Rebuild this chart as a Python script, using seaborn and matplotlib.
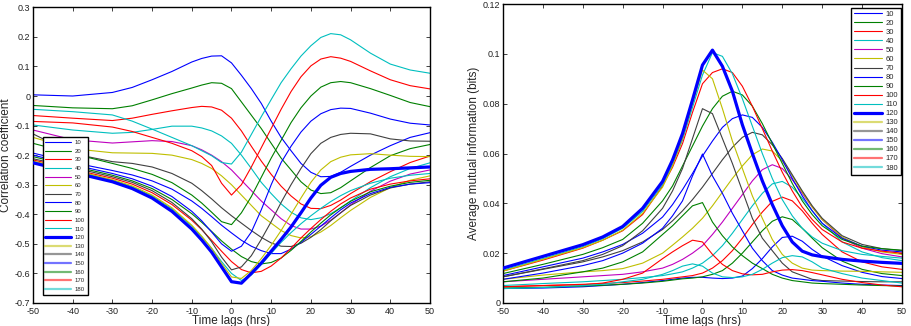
import matplotlib
matplotlib.use("Agg")
import matplotlib.pyplot as plt
import seaborn as sns
import pandas as pd

# ---- data -------------------------------------------------------------
lags = [-50, -40, -30, -25, -20, -15, -10, -7.5, -5, -2.5, 0, 2.5, 5, 7.5, 10,
        12.5, 15, 17.5, 20, 22.5, 25, 27.5, 30, 35, 40, 45, 50]
windows = [10, 20, 30, 40, 50, 60, 70, 80, 90, 100, 110, 120, 130, 140, 150, 160, 170, 180]

# correlation coefficient (left panel)
c10 = [0.004, 0.000, 0.012, 0.029, 0.055, 0.083, 0.115, 0.127, 0.135, 0.136, 0.112, 0.070, 0.025, -0.025, -0.085, -0.140, -0.185, -0.228, -0.258, -0.273, -0.272, -0.258, -0.238, -0.200, -0.168, -0.140, -0.124]
c20 = [-0.032, -0.040, -0.043, -0.033, -0.013, 0.008, 0.027, 0.037, 0.045, 0.043, 0.025, -0.020, -0.065, -0.110, -0.160, -0.210, -0.250, -0.290, -0.318, -0.330, -0.327, -0.310, -0.287, -0.242, -0.202, -0.178, -0.164]
c30 = [-0.066, -0.075, -0.083, -0.075, -0.062, -0.050, -0.039, -0.035, -0.037, -0.048, -0.075, -0.118, -0.170, -0.220, -0.265, -0.305, -0.338, -0.365, -0.380, -0.381, -0.370, -0.352, -0.330, -0.290, -0.256, -0.225, -0.203]
c40 = [-0.098, -0.115, -0.126, -0.123, -0.113, -0.102, -0.102, -0.108, -0.118, -0.135, -0.160, -0.200, -0.245, -0.292, -0.330, -0.365, -0.393, -0.412, -0.418, -0.412, -0.398, -0.378, -0.355, -0.310, -0.273, -0.245, -0.226]
c50 = [-0.115, -0.148, -0.159, -0.155, -0.151, -0.154, -0.168, -0.182, -0.200, -0.222, -0.250, -0.285, -0.320, -0.355, -0.385, -0.415, -0.438, -0.450, -0.450, -0.440, -0.420, -0.395, -0.368, -0.322, -0.288, -0.264, -0.250]
c60 = [-0.140, -0.178, -0.192, -0.193, -0.194, -0.200, -0.215, -0.228, -0.245, -0.270, -0.300, -0.335, -0.370, -0.405, -0.430, -0.455, -0.472, -0.480, -0.476, -0.460, -0.438, -0.412, -0.387, -0.343, -0.310, -0.285, -0.270]
c70 = [-0.128, -0.195, -0.222, -0.228, -0.240, -0.262, -0.295, -0.320, -0.348, -0.378, -0.405, -0.430, -0.455, -0.478, -0.497, -0.508, -0.509, -0.498, -0.478, -0.452, -0.422, -0.395, -0.370, -0.335, -0.311, -0.298, -0.290]
c80 = [-0.193, -0.225, -0.252, -0.267, -0.287, -0.315, -0.355, -0.380, -0.408, -0.437, -0.463, -0.488, -0.508, -0.523, -0.533, -0.533, -0.518, -0.495, -0.468, -0.440, -0.412, -0.385, -0.362, -0.330, -0.309, -0.298, -0.293]
c90 = [-0.205, -0.237, -0.268, -0.287, -0.313, -0.350, -0.398, -0.427, -0.458, -0.490, -0.518, -0.543, -0.560, -0.568, -0.563, -0.548, -0.522, -0.492, -0.460, -0.430, -0.402, -0.378, -0.356, -0.324, -0.305, -0.292, -0.285]
c100 = [-0.216, -0.248, -0.278, -0.298, -0.327, -0.367, -0.420, -0.452, -0.488, -0.525, -0.560, -0.587, -0.598, -0.593, -0.575, -0.548, -0.515, -0.480, -0.448, -0.418, -0.390, -0.365, -0.345, -0.315, -0.298, -0.287, -0.280]
c110 = [-0.222, -0.253, -0.285, -0.307, -0.338, -0.382, -0.440, -0.476, -0.515, -0.560, -0.600, -0.624, -0.605, -0.570, -0.532, -0.495, -0.462, -0.432, -0.405, -0.380, -0.357, -0.337, -0.320, -0.295, -0.278, -0.268, -0.262]
c120 = [-0.226, -0.258, -0.290, -0.313, -0.345, -0.390, -0.450, -0.487, -0.528, -0.578, -0.628, -0.633, -0.600, -0.565, -0.525, -0.485, -0.443, -0.395, -0.345, -0.302, -0.275, -0.262, -0.255, -0.248, -0.246, -0.243, -0.240]
c130 = [-0.220, -0.250, -0.283, -0.304, -0.335, -0.378, -0.437, -0.474, -0.515, -0.566, -0.612, -0.617, -0.590, -0.550, -0.505, -0.455, -0.400, -0.345, -0.292, -0.250, -0.222, -0.207, -0.199, -0.195, -0.200, -0.204, -0.205]
c140 = [-0.212, -0.242, -0.273, -0.292, -0.320, -0.360, -0.415, -0.450, -0.493, -0.545, -0.588, -0.578, -0.540, -0.485, -0.425, -0.360, -0.300, -0.245, -0.195, -0.160, -0.140, -0.130, -0.126, -0.128, -0.145, -0.152, -0.153]
c150 = [-0.200, -0.232, -0.262, -0.280, -0.305, -0.340, -0.390, -0.422, -0.460, -0.500, -0.525, -0.508, -0.460, -0.385, -0.300, -0.225, -0.170, -0.122, -0.085, -0.060, -0.046, -0.041, -0.042, -0.058, -0.078, -0.092, -0.098]
c160 = [-0.160, -0.195, -0.228, -0.245, -0.265, -0.293, -0.335, -0.362, -0.393, -0.425, -0.435, -0.395, -0.340, -0.275, -0.210, -0.150, -0.090, -0.040, 0.000, 0.030, 0.045, 0.049, 0.045, 0.025, 0.002, -0.022, -0.036]
c170 = [-0.086, -0.091, -0.105, -0.120, -0.140, -0.160, -0.185, -0.205, -0.235, -0.295, -0.335, -0.300, -0.240, -0.175, -0.110, -0.045, 0.015, 0.065, 0.102, 0.125, 0.133, 0.128, 0.117, 0.085, 0.055, 0.035, 0.024]
c180 = [-0.045, -0.053, -0.064, -0.085, -0.112, -0.140, -0.168, -0.185, -0.202, -0.225, -0.230, -0.190, -0.130, -0.070, -0.012, 0.045, 0.092, 0.135, 0.170, 0.198, 0.211, 0.207, 0.190, 0.145, 0.108, 0.088, 0.077]

# average mutual information (right panel)
m10 = [0.0058, 0.0060, 0.0065, 0.0070, 0.0075, 0.0082, 0.0090, 0.0095, 0.0100, 0.0103, 0.0103, 0.0100, 0.0098, 0.0100, 0.0108, 0.0138, 0.0178, 0.0225, 0.0263, 0.0268, 0.0248, 0.0215, 0.0188, 0.0150, 0.0123, 0.0106, 0.0098]
m20 = [0.0060, 0.0063, 0.0068, 0.0071, 0.0075, 0.0080, 0.0087, 0.0092, 0.0097, 0.0100, 0.0105, 0.0115, 0.0130, 0.0160, 0.0200, 0.0245, 0.0290, 0.0328, 0.0346, 0.0335, 0.0300, 0.0260, 0.0222, 0.0168, 0.0135, 0.0118, 0.0110]
m30 = [0.0065, 0.0070, 0.0075, 0.0078, 0.0082, 0.0088, 0.0095, 0.0100, 0.0105, 0.0110, 0.0120, 0.0140, 0.0170, 0.0210, 0.0260, 0.0315, 0.0365, 0.0408, 0.0425, 0.0410, 0.0370, 0.0320, 0.0275, 0.0205, 0.0165, 0.0145, 0.0135]
m40 = [0.0070, 0.0078, 0.0085, 0.0090, 0.0095, 0.0102, 0.0110, 0.0117, 0.0125, 0.0140, 0.0160, 0.0190, 0.0230, 0.0280, 0.0335, 0.0390, 0.0440, 0.0478, 0.0488, 0.0465, 0.0420, 0.0370, 0.0320, 0.0245, 0.0205, 0.0182, 0.0170]
m50 = [0.0085, 0.0095, 0.0105, 0.0110, 0.0115, 0.0125, 0.0140, 0.0155, 0.0175, 0.0200, 0.0230, 0.0275, 0.0325, 0.0380, 0.0435, 0.0490, 0.0535, 0.0555, 0.0540, 0.0495, 0.0440, 0.0385, 0.0335, 0.0260, 0.0220, 0.0198, 0.0185]
m60 = [0.0095, 0.0112, 0.0125, 0.0130, 0.0138, 0.0160, 0.0200, 0.0232, 0.0265, 0.0300, 0.0340, 0.0390, 0.0445, 0.0500, 0.0550, 0.0595, 0.0618, 0.0610, 0.0570, 0.0510, 0.0445, 0.0385, 0.0335, 0.0265, 0.0225, 0.0205, 0.0195]
m70 = [0.0105, 0.0135, 0.0165, 0.0185, 0.0210, 0.0245, 0.0295, 0.0330, 0.0370, 0.0415, 0.0465, 0.0520, 0.0575, 0.0625, 0.0665, 0.0685, 0.0675, 0.0635, 0.0580, 0.0515, 0.0450, 0.0390, 0.0340, 0.0270, 0.0235, 0.0218, 0.0210]
m80 = [0.0110, 0.0145, 0.0180, 0.0205, 0.0235, 0.0280, 0.0345, 0.0395, 0.0455, 0.0520, 0.0590, 0.0650, 0.0705, 0.0740, 0.0755, 0.0745, 0.0705, 0.0645, 0.0575, 0.0500, 0.0430, 0.0370, 0.0320, 0.0260, 0.0228, 0.0212, 0.0205]
m90 = [0.0118, 0.0155, 0.0195, 0.0222, 0.0255, 0.0320, 0.0410, 0.0470, 0.0550, 0.0630, 0.0710, 0.0780, 0.0830, 0.0850, 0.0835, 0.0790, 0.0720, 0.0640, 0.0560, 0.0480, 0.0410, 0.0355, 0.0310, 0.0255, 0.0228, 0.0218, 0.0212]
m100 = [0.0128, 0.0172, 0.0220, 0.0252, 0.0290, 0.0355, 0.0470, 0.0545, 0.0640, 0.0765, 0.0880, 0.0925, 0.0940, 0.0925, 0.0870, 0.0790, 0.0700, 0.0610, 0.0525, 0.0450, 0.0385, 0.0335, 0.0295, 0.0245, 0.0220, 0.0208, 0.0200]
m110 = [0.0132, 0.0178, 0.0226, 0.0258, 0.0300, 0.0368, 0.0475, 0.0555, 0.0655, 0.0785, 0.0915, 0.1005, 0.0990, 0.0920, 0.0820, 0.0710, 0.0600, 0.0500, 0.0415, 0.0350, 0.0300, 0.0265, 0.0240, 0.0210, 0.0195, 0.0187, 0.0180]
m120 = [0.0140, 0.0187, 0.0234, 0.0265, 0.0307, 0.0380, 0.0488, 0.0574, 0.0680, 0.0815, 0.0955, 0.1015, 0.0950, 0.0850, 0.0715, 0.0600, 0.0490, 0.0395, 0.0310, 0.0245, 0.0208, 0.0193, 0.0186, 0.0175, 0.0168, 0.0163, 0.0159]
m130 = [0.0128, 0.0175, 0.0222, 0.0252, 0.0292, 0.0360, 0.0465, 0.0550, 0.0660, 0.0800, 0.0935, 0.0900, 0.0780, 0.0650, 0.0540, 0.0430, 0.0340, 0.0255, 0.0195, 0.0160, 0.0140, 0.0132, 0.0130, 0.0128, 0.0127, 0.0125, 0.0123]
m140 = [0.0105, 0.0137, 0.0170, 0.0195, 0.0230, 0.0290, 0.0380, 0.0450, 0.0540, 0.0660, 0.0780, 0.0760, 0.0660, 0.0560, 0.0450, 0.0340, 0.0260, 0.0210, 0.0160, 0.0125, 0.0110, 0.0095, 0.0090, 0.0088, 0.0086, 0.0085, 0.0085]
m150 = [0.0095, 0.0120, 0.0150, 0.0170, 0.0200, 0.0240, 0.0300, 0.0350, 0.0410, 0.0510, 0.0598, 0.0510, 0.0440, 0.0360, 0.0290, 0.0220, 0.0170, 0.0130, 0.0112, 0.0100, 0.0095, 0.0090, 0.0087, 0.0080, 0.0075, 0.0072, 0.0070]
m160 = [0.0085, 0.0100, 0.0125, 0.0140, 0.0165, 0.0205, 0.0275, 0.0310, 0.0350, 0.0390, 0.0403, 0.0325, 0.0270, 0.0225, 0.0190, 0.0160, 0.0138, 0.0115, 0.0100, 0.0090, 0.0085, 0.0080, 0.0078, 0.0075, 0.0072, 0.0070, 0.0068]
m170 = [0.0065, 0.0070, 0.0073, 0.0080, 0.0095, 0.0120, 0.0178, 0.0205, 0.0230, 0.0252, 0.0245, 0.0195, 0.0155, 0.0130, 0.0117, 0.0113, 0.0115, 0.0125, 0.0132, 0.0134, 0.0130, 0.0122, 0.0113, 0.0095, 0.0082, 0.0072, 0.0065]
m180 = [0.0058, 0.0062, 0.0070, 0.0075, 0.0085, 0.0095, 0.0115, 0.0130, 0.0148, 0.0157, 0.0148, 0.0120, 0.0105, 0.0102, 0.0105, 0.0115, 0.0135, 0.0160, 0.0182, 0.0190, 0.0185, 0.0165, 0.0140, 0.0118, 0.0100, 0.0090, 0.0080]

corr_series = [c10, c20, c30, c40, c50, c60, c70, c80, c90, c100, c110, c120,
               c130, c140, c150, c160, c170, c180]
mi_series = [m10, m20, m30, m40, m50, m60, m70, m80, m90, m100, m110, m120,
             m130, m140, m150, m160, m170, m180]

xticks = [-50, -40, -30, -20, -10, 0, 10, 20, 30, 40, 50]
corr_ticks = [-0.7, -0.6, -0.5, -0.4, -0.3, -0.2, -0.1, 0, 0.1, 0.2, 0.3]
corr_ticklabels = ["-0.7", "-0.6", "-0.5", "-0.4", "-0.3", "-0.2", "-0.1", "0", "0.1", "0.2", "0.3"]
mi_ticks = [0, 0.02, 0.04, 0.06, 0.08, 0.1, 0.12]
mi_ticklabels = ["0", "0.02", "0.04", "0.06", "0.08", "0.1", "0.12"]

# ---- style ------------------------------------------------------------
sns.set_style("ticks")
plt.rcParams["font.family"] = ["Liberation Sans", "DejaVu Sans"]

colors = {10: "#0000ff", 20: "#008000", 30: "#ff0000", 40: "#00bfbf", 50: "#bf00bf",
          60: "#bfbf00", 70: "#404040", 80: "#0000ff", 90: "#008000", 100: "#ff0000",
          110: "#00bfbf", 120: "#0000ff", 130: "#bfbf00", 140: "#404040", 150: "#0000ff",
          160: "#008000", 170: "#ff0000", 180: "#00bfbf"}

fig = plt.figure(figsize=(9.11, 3.26), dpi=100)
ax1 = fig.add_axes([0.0362, 0.0706, 0.4358, 0.907])
ax2 = fig.add_axes([0.5521, 0.0706, 0.4380, 0.917])


def draw(ax, series_list):
    for w, vals in zip(windows, series_list):
        df = pd.DataFrame({"lag": lags, "val": vals})
        lw = 2.3 if w == 120 else 0.8
        sns.lineplot(data=df, x="lag", y="val", ax=ax, color=colors[w], linewidth=lw,
                     label=str(w), zorder=3 if w == 120 else 2)


draw(ax1, corr_series)
draw(ax2, mi_series)


def style_axes(ax, yticks, ylabels, ylim, ylabel):
    ax.set_xlim(-50, 50)
    ax.set_ylim(*ylim)
    ax.set_xticks(xticks)
    ax.set_xticklabels([str(t) for t in xticks])
    ax.set_yticks(yticks)
    ax.set_yticklabels(ylabels)
    ax.tick_params(direction="in", top=True, right=True, length=3, width=0.6,
                   labelsize=6.5, pad=2, colors="#222222")
    ax.tick_params(axis="x", pad=3)
    for s in ax.spines.values():
        s.set_linewidth(1.0)
        s.set_color("black")
    ax.set_xlabel("Time lags (hrs)", fontsize=8.5, labelpad=-1)
    ax.set_ylabel(ylabel, fontsize=8.5, labelpad=2)


style_axes(ax1, corr_ticks, corr_ticklabels, (-0.7, 0.3), "Correlation coefficient")
style_axes(ax2, mi_ticks, mi_ticklabels, (0, 0.12), "Average mutual information (bits)")

leg1 = ax1.legend(loc="lower left", bbox_to_anchor=(0.024, 0.027), borderaxespad=0,
                  fontsize=4.3, handlelength=4.3, labelspacing=0.58, handletextpad=0.6,
                  borderpad=0.5, fancybox=False, framealpha=1, edgecolor="black")
leg1.get_frame().set_linewidth(1.0)

leg2 = ax2.legend(loc="upper right", bbox_to_anchor=(0.998, 0.988), borderaxespad=0,
                  fontsize=5.5, handlelength=3.6, labelspacing=0.22, handletextpad=0.5,
                  borderpad=0.4, fancybox=False, framealpha=1, edgecolor="black")
leg2.get_frame().set_linewidth(1.0)

for leg in (leg1, leg2):
    for i, ln in enumerate(leg.get_lines()):
        if windows[i] > 120:
            ln.set_linewidth(1.6)
            ln.set_alpha(0.55)

fig.savefig("out.png", dpi=100)
